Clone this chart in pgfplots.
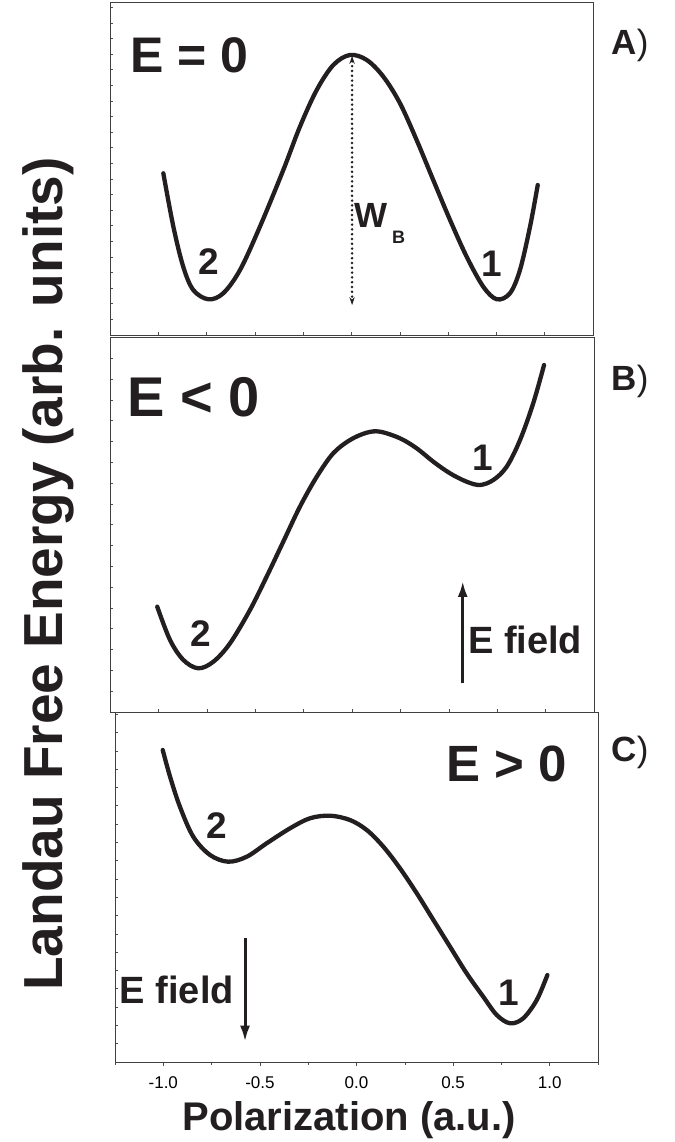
\documentclass[border=0pt]{standalone}
\usepackage{fontspec}
\setmainfont{Liberation Sans}
\usepackage{pgfplots}
\pgfplotsset{compat=1.18}
\usetikzlibrary{arrows.meta}
\definecolor{ink}{RGB}{35,31,32}
\pgfplotsset{
  panel/.style={
    scale only axis, anchor=south west,
    xmin=-1.25, xmax=1.25, ymin=0,
    axis line style={black!75, line width=0.8pt},
    tick style={black!70, line width=0.6pt},
    xtick pos=bottom, ytick pos=left,
    tick align=inside, major tick length=3pt,
    xticklabels={}, yticklabels={},
  },
  curve/.style={ink, line width=4.3pt, smooth, tension=0.55, line cap=round},
}
\newcommand{\bigf}[1]{\fontsize{#1}{#1}\selectfont\bfseries}
\begin{document}
\begin{tikzpicture}[x=1pt,y=1pt]
\path (0,0) rectangle (674,1142);
% ---------- Panel A ----------
\begin{axis}[panel, at={(110pt,807pt)}, width=483pt, height=333pt, ymax=333,
  xtick={-1.25,-1,...,1.25}, ytick={0,15.6,...,330}]
\addplot[curve] coordinates {
(-0.974,161.7) (-0.922,108.3) (-0.871,68.3) (-0.819,45) (-0.741,35.7)
(-0.664,41.7) (-0.577,65) (-0.474,108.3) (-0.353,165) (-0.267,208.3)
(-0.180,245) (-0.094,270) (-0.008,280) (0.079,275) (0.165,258.3)
(0.251,231.7) (0.337,195) (0.423,155) (0.510,115) (0.596,78.3)
(0.682,48.3) (0.752,35.7) (0.820,41.7) (0.872,65) (0.924,108.3) (0.964,150)};
\draw[ink, line width=2.8pt, dash pattern=on 0pt off 4.8pt, line cap=round,
  {Stealth[length=8pt,width=5.5pt,line width=0pt]}-{Stealth[length=8pt,width=5.5pt,line width=0pt]}]
  (axis cs:0.003,279) -- (axis cs:0.003,30);
\end{axis}
% ---------- Panel B ----------
\begin{axis}[panel, at={(110pt,430pt)}, width=484pt, height=375pt, ymax=375,
  xtick={-1.25,-1,...,1.25}, ytick={0,20.8,...,370}]
\addplot[curve] coordinates {
(-1.006,105.3) (-0.940,72) (-0.871,52) (-0.794,43.7) (-0.716,50.3)
(-0.630,68.7) (-0.527,102) (-0.441,135.3) (-0.355,170.3) (-0.269,205.3)
(-0.182,235.3) (-0.097,258.7) (-0.010,272) (0.076,279.3) (0.145,280.3)
(0.248,273.7) (0.334,263.7) (0.420,250.3) (0.506,238.7) (0.592,230.3)
(0.661,227) (0.730,232) (0.799,245.3) (0.868,272) (0.936,308.7) (0.992,347)};
\draw[ink, line width=3pt, -{Latex[length=16pt,width=10pt]}]
  (axis cs:0.572,28.7) -- (axis cs:0.572,131);
\end{axis}
% ---------- Panel C ----------
\begin{axis}[panel, at={(115pt,80pt)}, width=483pt, height=350pt, ymax=350,
  ytick=\empty, tick align=outside, major tick length=4pt, minor tick length=3pt,
  xtick={-1,-0.5,0,0.5,1}, minor xtick={-1.25,-0.75,-0.25,0.25,0.75,1.25},
  xticklabels={-1.0,-0.5,0.0,0.5,1.0},
  xticklabel style={font=\fontsize{17}{17}\selectfont, yshift=-7pt}]
\addplot[curve] coordinates {
(-1.003,312) (-0.965,285.3) (-0.914,255.3) (-0.845,225.3) (-0.758,207)
(-0.664,200.3) (-0.568,205.3) (-0.465,218.7) (-0.344,233.7) (-0.241,243.7)
(-0.137,246.3) (-0.034,242) (0.053,232) (0.139,215.3) (0.225,193.7)
(0.312,168.7) (0.398,142) (0.484,115.3) (0.570,88.7) (0.656,65.3)
(0.726,47) (0.795,38.7) (0.863,43.7) (0.933,62) (0.988,87)};
\draw[ink, line width=3pt, -{Latex[length=16pt,width=10pt]}]
  (axis cs:-0.577,123.7) -- (axis cs:-0.577,20.3);
\end{axis}
\begin{axis}[panel, at={(115pt,80pt)}, width=483pt, height=350pt, ymax=350,
  xtick=\empty, ytick={0,18.3,...,345}]
\end{axis}
% ---------- Texts ----------
\node[anchor=base west, inner sep=0, text=ink, font=\bigf{50}] at (130,1069) {E = 0};
\node[anchor=base west, inner sep=0, text=ink, font=\bigf{56}] at (127,725) {E < 0};
\node[anchor=base west, inner sep=0, text=ink, font=\bigf{51}] at (446,360) {E > 0};
\node[inner sep=0, text=ink, font=\bigf{37}] at (208.8,880) {2};
\node[inner sep=0, text=ink, font=\bigf{37}] at (492,878) {1};
\node[inner sep=0, text=ink, font=\bigf{37}] at (200.7,508) {2};
\node[inner sep=0, text=ink, font=\bigf{37}] at (483,684.5) {1};
\node[inner sep=0, text=ink, font=\bigf{37}] at (216.7,316) {2};
\node[inner sep=0, text=ink, font=\bigf{37}] at (509,149.5) {1};
\node[anchor=base west, inner sep=0, text=ink, font=\bigf{35}] at (354,914) {W};
\node[anchor=base west, inner sep=0, text=ink, font=\bigf{18}] at (392,898) {B};
\node[anchor=base west, inner sep=0, text=ink, font=\bigf{38}] at (468,488.7) {E field};
\node[anchor=base east, inner sep=0, text=ink, font=\bigf{38}] at (234,138) {E field};
\node[inner sep=0, text=ink, font=\fontsize{35}{35}\selectfont] at (630,1097) {\textbf{A})};
\node[inner sep=0, text=ink, font=\fontsize{35}{35}\selectfont] at (630,761) {\textbf{B})};
\node[inner sep=0, text=ink, font=\fontsize{35}{35}\selectfont] at (630,390) {\textbf{C})};
\node[rotate=90, inner sep=0, text=ink, font=\bigf{55}] at (48,568) {Landau Free Energy (arb. units)};
\node[anchor=base, inner sep=0, text=ink, font=\bigf{40}] at (349,12) {Polarization (a.u.)};
\end{tikzpicture}
\end{document}
